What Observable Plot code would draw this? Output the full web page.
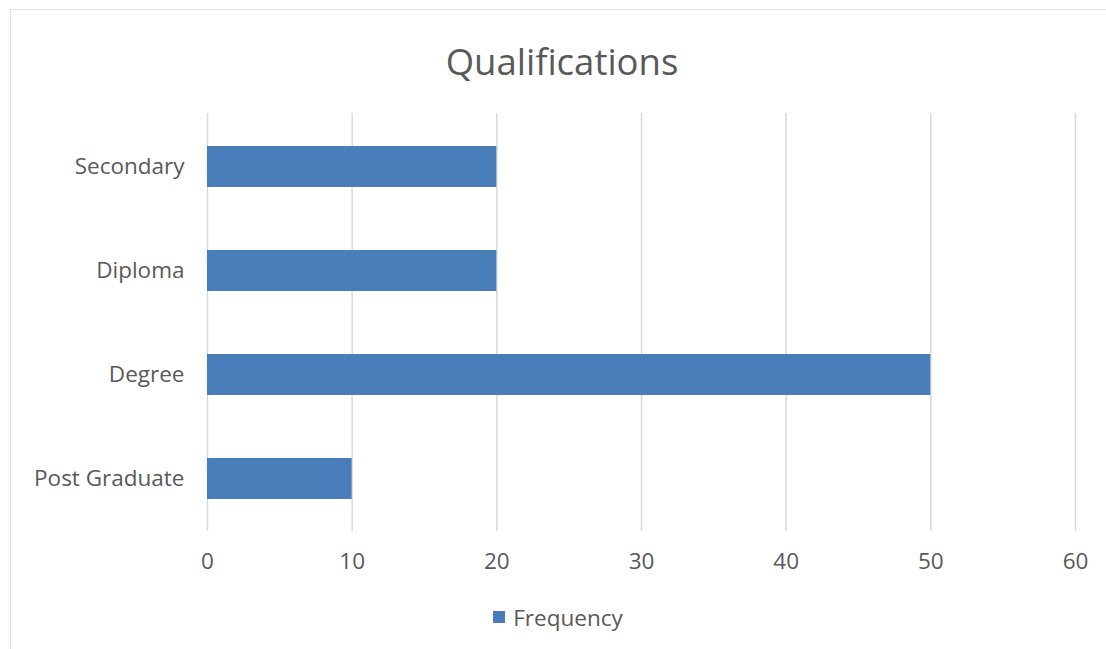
<!DOCTYPE html>
<html>
<head>
<meta charset="utf-8">
<script src="https://cdn.jsdelivr.net/npm/d3@7"></script>
<script src="https://cdn.jsdelivr.net/npm/@observablehq/plot@0.6"></script>
<style>
  body { margin: 0; background: #fff; font-family: "Open Sans", sans-serif; }
  #wrap { position: relative; width: 1106px; height: 649px; overflow: hidden; background: #fff; }
  #frame { position: absolute; left: 10px; top: 9px; width: 1120px; height: 700px; border: 1px solid #e2e2e2; box-sizing: border-box; }
  #title { position: absolute; left: 18px; width: 1088px; top: 41px; height: 40px; line-height: 40px; text-align: center; font-size: 36.5px; color: #595959; }
  #chart { position: absolute; left: 0; top: 99px; }
  #legend { position: absolute; left: 10px; width: 1096px; top: 603px; height: 28px; display: flex; justify-content: center; align-items: center; font-size: 22.5px; color: #595959; }
  #legend .sw { width: 12px; height: 12px; background: #4a7ebb; margin-right: 8px; }
</style>
</head>
<body>
<div id="wrap">
  <div id="frame"></div>
  <div id="title">Qualifications</div>
  <div id="chart"></div>
  <div id="legend"><span class="sw"></span><span>Frequency</span></div>
</div>
<script>
const categories = ["Secondary", "Diploma", "Degree", "Post Graduate"];
const frequency = [20, 20, 50, 10];
const xTicks = [0, 10, 20, 30, 40, 50, 60];
const seriesName = "Frequency";

const data = categories.map((c, i) => ({ category: c, value: frequency[i] }));

const chart = Plot.plot({
  width: 1106,
  height: 480,
  marginLeft: 207,
  marginRight: 31,
  marginTop: 14,
  marginBottom: 48,
  style: { fontFamily: "'Open Sans', sans-serif", fontSize: "22.5px", color: "#595959", background: "transparent" },
  x: { domain: [0, 60], ticks: xTicks, label: null, tickSize: 0, tickPadding: 22 },
  y: { domain: categories, label: null, padding: 0.608, paddingOuter: 0.304, tickSize: 0, tickPadding: 23 },
  marks: [
    Plot.gridX(xTicks, { stroke: "#d9d9d9", strokeOpacity: 1, strokeWidth: 1.5 }),
    Plot.barX(data, { y: "category", x: "value", fill: "#4a7ebb" }),
    Plot.axisX({ ticks: xTicks, tickSize: 0, tickPadding: 22, fill: "#595959", fontSize: 22.5 }),
    Plot.axisY({ tickSize: 0, tickPadding: 23, fill: "#595959", fontSize: 22.5 })
  ]
});
document.getElementById("chart").appendChild(chart);
</script>
</body>
</html>
